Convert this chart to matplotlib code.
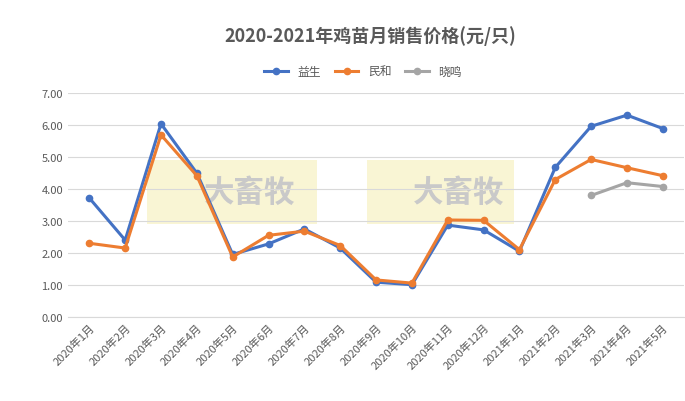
import matplotlib
matplotlib.use("Agg")
import matplotlib.pyplot as plt
import numpy as np

plt.rcParams['font.family'] = ['Noto Sans CJK SC', 'DejaVu Sans']

categories = ["2020年1月","2020年2月","2020年3月","2020年4月","2020年5月","2020年6月","2020年7月",
              "2020年8月","2020年9月","2020年10月","2020年11月","2020年12月","2021年1月","2021年2月",
              "2021年3月","2021年4月","2021年5月"]
yisheng = [3.72, 2.40, 6.05, 4.50, 1.95, 2.28, 2.75, 2.15, 1.08, 1.00, 2.87, 2.72, 2.05, 4.68, 5.97, 6.32, 5.90]
minhe = [2.30, 2.15, 5.70, 4.42, 1.87, 2.55, 2.68, 2.23, 1.15, 1.05, 3.03, 3.02, 2.10, 4.30, 4.93, 4.67, 4.42]
xiaoming = [np.nan]*14 + [3.80, 4.20, 4.08]
yticks = [0, 1, 2, 3, 4, 5, 6, 7]

fig = plt.figure(figsize=(6.85, 4.02), dpi=100)
ax = fig.add_axes([0.099, 0.21, 0.90, 0.555])
x = np.arange(len(categories))
for vals, c, lab in [(yisheng, '#4472C4', '益生'), (minhe, '#ED7D31', '民和'), (xiaoming, '#A5A5A5', '晓鸣')]:
    ax.plot(x, vals, color=c, lw=2.2, marker='o', ms=4.5, label=lab)

# watermark panels
for x0, x1 in [(1.6, 6.35), (7.75, 11.85)]:
    ax.add_patch(plt.Rectangle((x0, 2.9), x1 - x0, 2.0, color='#F2E9A0', alpha=0.45, lw=0, zorder=0))
    ax.text((x0 + x1) / 2 + 0.5, 3.9, '大畜牧', fontsize=22, color='#C9C9C9', ha='center', va='center', weight='bold', zorder=0.5)

ax.set_xlim(-0.6, len(categories) - 0.4)
ax.set_ylim(0, 7)
ax.set_yticks(yticks)
ax.set_yticklabels([f"{v:.2f}" for v in yticks], fontsize=8, color='#595959')
ax.set_xticks(x)
ax.set_xticklabels(categories, rotation=45, ha='right', rotation_mode='anchor', fontsize=8, color='#595959')
ax.grid(axis='y', color='#D9D9D9', lw=0.8)
ax.set_axisbelow(True)
for s in ['top', 'right', 'left']:
    ax.spines[s].set_visible(False)
ax.spines['bottom'].set_color('#D9D9D9')
ax.tick_params(length=0)

fig.suptitle('2020-2021年鸡苗月销售价格(元/只)', x=0.54, y=0.935, fontsize=13, weight='bold', color='#595959')
fig.legend(loc='center', bbox_to_anchor=(0.53, 0.82), ncol=3, frameon=False, fontsize=8.5,
           handlelength=2, columnspacing=1.2, labelcolor='#595959')
fig.savefig('out.png', dpi=100)
